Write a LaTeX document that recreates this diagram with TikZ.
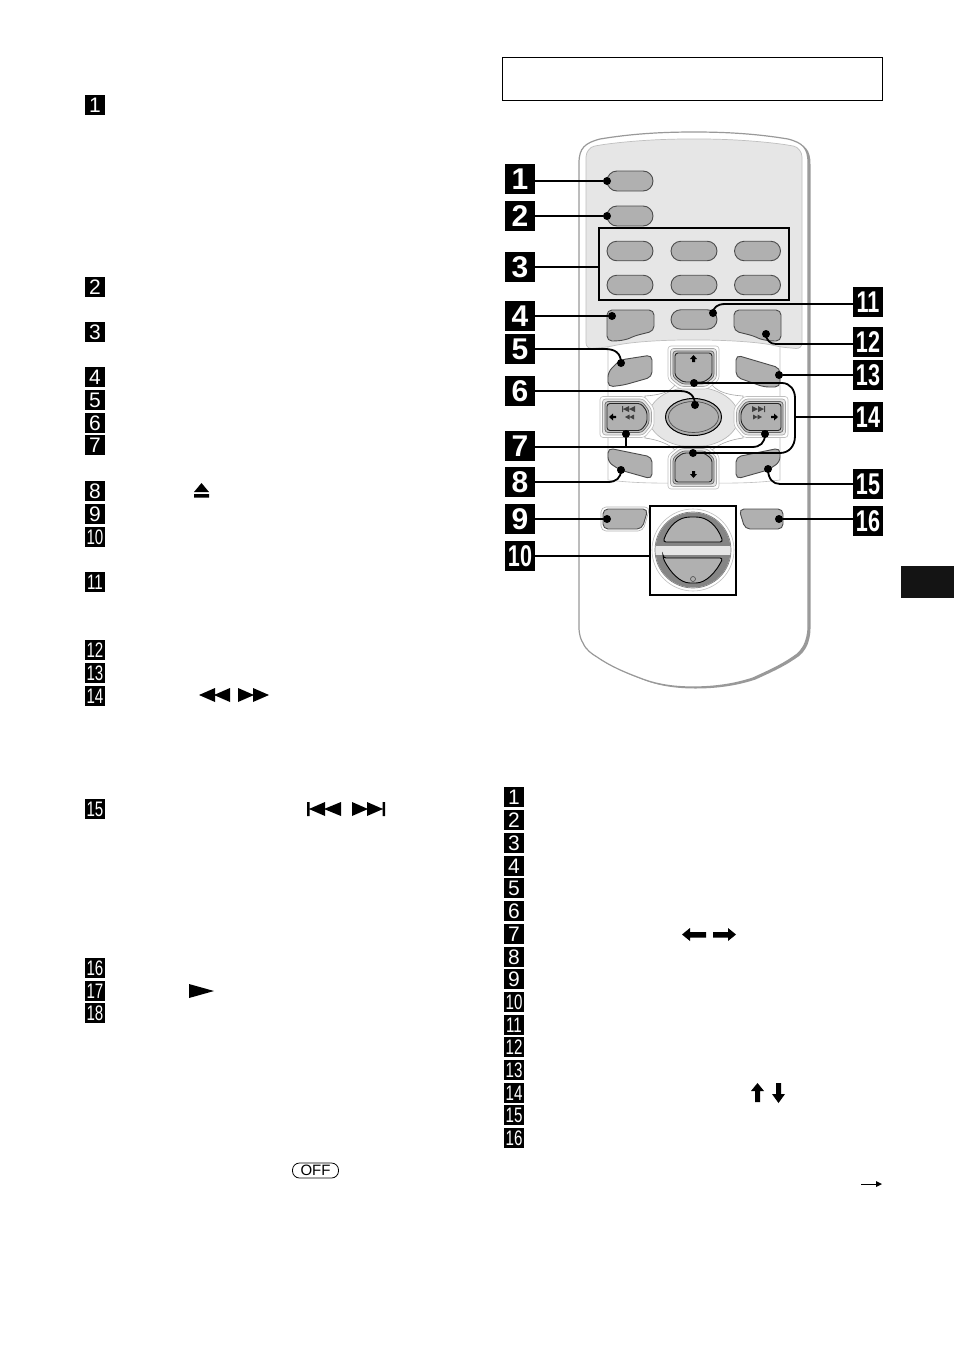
\documentclass[tikz,border=0pt]{standalone}
\usepackage{fontspec}
\usepackage{graphicx}
\setmainfont{Liberation Sans}
\usetikzlibrary{calc,shapes.misc}
\newcommand\numtxt[1]{\ifnum#1>9 \scalebox{0.72}[1]{#1}\else #1\fi}
\newcommand\bodyoutline{(579,163) .. controls (579,148) and (585,143) .. (600,139) .. controls (630,134) and (660,132) .. (694,132) .. controls (728,132) and (758,134) .. (788,139) .. controls (803,143) and (808,148) .. (808,163) -- (808,627) .. controls (808,635) and (806,640) .. (805,643) .. controls (802,650) and (798,654) .. (793,657) .. controls (780,666) and (766,672) .. (753,678) .. controls (735,684) and (715,687) .. (693,687) .. controls (672,687) and (655,684) .. (640,678) .. controls (624,672) and (610,666) .. (597,657) .. controls (592,654) and (586,650) .. (583,643) .. controls (581,640) and (579,635) .. (579,627) -- cycle}
\newcommand\dbtn[5]{%
 \begin{scope}[shift={(#1,#2)},rotate=#5]
  \foreach \g/\fc/\sc/\lw in {7/white/gray!50/0.6,4.5/black!10/gray!70/0.6,2/black!25/black!60/0.7,0/btn/black!85/0.9}{
   \draw[fill=\fc,draw=\sc,line width=\lw pt,rounded corners=3pt] (-#3-\g,-#4-\g) -- (#3+\g,-#4-\g) -- (#3+\g,#4-6+0.5*\g) -- (#3-8+0.5*\g,#4+\g) -- (-#3+8-0.5*\g,#4+\g) -- (-#3-\g,#4-6+0.5*\g) -- cycle;
  }
 \end{scope}}
\definecolor{btn}{HTML}{B0B0B0}
\definecolor{panel}{HTML}{E6E6E6}
\tikzset{
 sbadge/.style={fill=black,text=white,minimum width=20pt,minimum height=20pt,inner sep=0pt,font=\fontsize{21}{21}\selectfont},
 bbadge/.style={fill=black,text=white,minimum width=29.5pt,minimum height=29.5pt,inner sep=0pt,font=\fontsize{30}{30}\selectfont\bfseries},
 leaddot/.style={circle,fill=black,minimum size=8pt,inner sep=0pt},
 lead/.style={line width=1.8pt,black,line cap=round},
 framebox/.style={draw=black,line width=2pt,inner sep=0pt},
 rbtn/.style={rounded rectangle,fill=btn,draw=black!70,line width=0.9pt},
 sbtn/.style={fill=btn,draw=black!70,line width=0.9pt,rounded corners=5pt},
 glyph/.style={fill=black,draw=none},
}
\begin{document}
\begin{tikzpicture}[x=1pt,y=-1pt]
\useasboundingbox (0,0) rectangle (954,1352);
% page furniture
\node[draw=black,line width=0.8pt,minimum width=380pt,minimum height=43pt,inner sep=0pt] (titlebox) at (692.5,79) {};
\node[fill=black!92,minimum width=53pt,minimum height=32pt,inner sep=0pt] (tab) at (927.5,582) {};
% small badges
\foreach \n/\y in {1/105,2/287,3/332,4/377,5/400,6/423,7/445,8/491,9/514,10/537,11/582,12/650,13/673,14/696,15/809,16/968,17/991,18/1013}
  \node[sbadge] (L\n) at (95,\y) {\numtxt{\n}};
\foreach \n/\y in {1/797,2/820,3/843,4/866,5/888,6/911,7/934,8/957,9/979,10/1002,11/1025,12/1047,13/1070,14/1093,15/1115,16/1138}
  \node[sbadge] (R\n) at (514,\y) {\numtxt{\n}};
% glyphs
\fill[glyph] (194,492) -- (201.5,483) -- (209,492) -- cycle (194,494) rectangle (209,497.5);
\fill[glyph] (199,695) -- (215,688) -- (215,702) -- cycle (214,695) -- (230,688) -- (230,702) -- cycle;
\fill[glyph] (269,695) -- (253,688) -- (253,702) -- cycle (254,695) -- (238,688) -- (238,702) -- cycle;
\fill[glyph] (307,802) rectangle (309.5,816) (309,809) -- (325,802) -- (325,816) -- cycle (324,809) -- (341,802) -- (341,816) -- cycle;
\fill[glyph] (385,802) rectangle (382.5,816) (383,809) -- (367,802) -- (367,816) -- cycle (368,809) -- (352,802) -- (352,816) -- cycle;
\fill[glyph] (189,984) -- (214,991) -- (189,998) -- cycle;
\node[draw=black,line width=0.8pt,rounded corners=7pt,minimum width=46pt,minimum height=15pt,inner sep=0pt,font=\fontsize{15}{15}\selectfont] (off) at (315.5,1170.5) {OFF};
\fill[glyph] (682,934.5) -- (690,928) -- (690,932) -- (706,932) -- (706,937.5) -- (690,937.5) -- (690,941) -- cycle;
\fill[glyph] (736,934.5) -- (728,928) -- (728,932) -- (713,932) -- (713,937.5) -- (728,937.5) -- (728,941) -- cycle;
\fill[glyph] (757.5,1083) -- (764,1091) -- (760,1091) -- (760,1102) -- (755,1102) -- (755,1091) -- (751,1091) -- cycle;
\fill[glyph] (778.5,1103) -- (785,1094) -- (781,1094) -- (781,1083) -- (776,1083) -- (776,1094) -- (772,1094) -- cycle;
\draw[line width=0.8pt] (861,1184) -- (878,1184);
\fill[glyph] (882,1184) -- (876,1181) -- (876,1187) -- cycle;
% remote body
\fill[black!40,shift={(2.5,1.5)}] \bodyoutline;
\draw[fill=white,draw=black!40,line width=1.2pt] \bodyoutline;
\draw[fill=panel,draw=black!25,line width=0.7pt,rounded corners=6pt] (586,163) .. controls (586,152) and (590,147) .. (600,145) .. controls (630,141) and (660,139) .. (694,139) .. controls (728,139) and (758,141) .. (788,145) .. controls (798,147) and (802,152) .. (802,163) -- (802,349) -- (780,347) .. controls (760,342) and (725,340) .. (694,340) .. controls (660,340) and (630,342) .. (608,347) -- (586,349) -- cycle;
% faint area round the pad
\draw[draw=black!25,line width=0.6pt] (608,347) -- (608,480) .. controls (640,484) and (670,483) .. (694,483) .. controls (720,483) and (750,484) .. (780,480) -- (780,347);
% pad centre
\draw[fill=white,draw=black!35,line width=0.6pt] (675,385) .. controls (670,392) and (660,395) .. (645,396) -- (645,438) .. controls (660,440) and (670,445) .. (675,450) -- (712,450) .. controls (718,445) and (728,440) .. (743,438) -- (743,396) .. controls (728,395) and (718,392) .. (712,385) -- cycle;
\draw[fill=panel,draw=black!30,line width=0.6pt] (693.5,417) ellipse [x radius=45,y radius=30];
\dbtn{693.5}{367.5}{18.5}{14.5}{0}
\dbtn{693.5}{467.5}{18.5}{14.5}{180}
\dbtn{627}{417}{13.5}{20}{90}
\dbtn{761}{417}{13.5}{20}{-90}
\draw[fill=btn,draw=black,line width=1pt] (693.5,417) ellipse [x radius=28,y radius=18.5];
\draw[draw=black!70,line width=0.7pt] (693.5,417) ellipse [x radius=25,y radius=15.5];
% pad marks
\fill[glyph] (693.5,355) -- (697,359) -- (695,359) -- (695,362) -- (692,362) -- (692,359) -- (690,359) -- cycle;
\fill[glyph] (693.5,478) -- (697,474) -- (695,474) -- (695,471) -- (692,471) -- (692,474) -- (690,474) -- cycle;
\fill[glyph] (609,417) -- (613,413.5) -- (613,415.8) -- (616,415.8) -- (616,418.2) -- (613,418.2) -- (613,420.5) -- cycle;
\fill[glyph] (778,417) -- (774,413.5) -- (774,415.8) -- (771,415.8) -- (771,418.2) -- (774,418.2) -- (774,420.5) -- cycle;
\fill[black!75] (622,406) rectangle (623,412) (623,409) -- (629,406) -- (629,412) -- cycle (629,409) -- (635,406) -- (635,412) -- cycle (625,417) -- (629.5,414.5) -- (629.5,419.5) -- cycle (629.5,417) -- (634,414.5) -- (634,419.5) -- cycle;
\fill[black!75] (765,406) rectangle (764,412) (764,409) -- (758,406) -- (758,412) -- cycle (758,409) -- (752,406) -- (752,412) -- cycle (762,417) -- (757.5,414.5) -- (757.5,419.5) -- cycle (757.5,417) -- (753,414.5) -- (753,419.5) -- cycle;
% round buttons
\node[rbtn,minimum width=46pt,minimum height=20pt,inner sep=0pt] (k1) at (630,181) {};
\node[rbtn,minimum width=46pt,minimum height=20pt,inner sep=0pt] (k2) at (630,216) {};
\foreach \nm/\cx/\cy in {g1/630/251,g2/694/251,g3/757.5/251,g4/630/285,g5/694/285,g6/757.5/285,k11/694/319.5}
  \node[rbtn,minimum width=46pt,minimum height=19.5pt,inner sep=0pt] (\nm) at (\cx,\cy) {};
% shaped buttons
\draw[sbtn] (607,310) -- (654,310) -- (654,331) -- (634,336) .. controls (628,339) and (622,341) .. (607,341) -- cycle;
\draw[sbtn] (781,310) -- (734,310) -- (734,331) -- (754,336) .. controls (760,339) and (766,341) .. (781,341) -- cycle;
\draw[sbtn] (608,387) -- (608,372) -- (620,360) -- (652,355) -- (652,377) -- (624,385) -- cycle;
\draw[sbtn] (780,387) -- (780,368) -- (736,355) -- (736,377) -- (764,387) -- cycle;
\draw[sbtn] (608,448) -- (652,457) -- (652,479) -- (620,470) -- (608,462) -- cycle;
\draw[sbtn] (780,448) -- (736,457) -- (736,479) -- (768,470) -- (780,462) -- cycle;
\draw[black!30,line width=0.6pt,rounded corners=5pt] (601,507) -- (650,507) -- (643,531) -- (601,531) -- cycle;
\draw[sbtn] (603,509) -- (648,509) -- (642,529) -- (603,529) -- cycle;
\draw[sbtn] (783,509) -- (739,509) -- (745,529) -- (783,529) -- cycle;
% dial
\draw[draw=black!25,line width=0.6pt,fill=white] (693,550) circle [radius=41];
\draw[draw=black!50,line width=0.7pt,fill=panel] (693,550) circle [radius=38];
\begin{scope}
 \clip (640,500) rectangle (745,545);
 \fill[black!48] (693,550) circle [radius=37.5];
\end{scope}
\begin{scope}
 \clip (640,555) rectangle (745,600);
 \fill[black!48] (693,550) circle [radius=37.5];
\end{scope}
\draw[fill=btn,draw=black,line width=0.9pt,rounded corners=3pt] (663,542) .. controls (669,525) and (679,517) .. (693,517) .. controls (707,517) and (717,525) .. (723,542) -- cycle;
\draw[fill=btn,draw=black,line width=0.9pt,rounded corners=3pt] (663,558) -- (723,558) .. controls (716,572) and (706,583) .. (693,583) .. controls (680,583) and (670,572) .. (663,558) -- cycle;
\draw[black!70,line width=0.6pt] (693,579) circle [radius=2.5];
% frames
\node[framebox,minimum width=190pt,minimum height=72pt] (f3) at (694,264) {};
\node[framebox,minimum width=86pt,minimum height=89pt] (f10) at (693,550.5) {};
% big badges
\foreach \n/\x/\y in {1/520/179,2/520/216,3/520/267,4/520/316,5/520/349,6/520/391,7/520/446,8/520/482,9/520/519,10/520/556,11/868/302,12/868/342,13/868/375,14/868/417,15/868/484,16/868/521}
  \node[bbadge] (B\n) at (\x,\y) {\numtxt{\n}};
% leader dots
\node[leaddot] (d1) at (607,181) {};
\node[leaddot] (d2) at (607,216) {};
\node[leaddot] (d4) at (612,316) {};
\node[leaddot] (d5) at (621,363) {};
\node[leaddot] (d6) at (695,405) {};
\node[leaddot] (d7a) at (626,434) {};
\node[leaddot] (d7b) at (765,434) {};
\node[leaddot] (d8) at (621,470) {};
\node[leaddot] (d9) at (607,519) {};
\node[leaddot] (d11) at (713,313) {};
\node[leaddot] (d12) at (766,334) {};
\node[leaddot] (d13) at (779,375) {};
\node[leaddot] (d14a) at (694,383) {};
\node[leaddot] (d14b) at (693,453) {};
\node[leaddot] (d15) at (768,469) {};
\node[leaddot] (d16) at (779,519) {};
\coordinate (j7) at (626,447);
\coordinate (j14) at (795,417);
\coordinate (s11) at (853,304);
\coordinate (s12) at (853,344);
% leaders
\draw[lead] (B1.east |- d1) -- (d1);
\draw[lead] (B2.east |- d2) -- (d2);
\draw[lead] (B3.east) -- (B3.east -| f3.west);
\draw[lead] (B4.east) -- (d4);
\draw[lead] (B5.east) -- (605,349) .. controls (615,349) and (621,353) .. (d5.center);
\draw[lead] (B6.east) -- (680,391) .. controls (690,391) and (695,396) .. (d6.center);
\draw[lead] (B7.east |- j7) -- (752,447) .. controls (760,447) and (765,443) .. (d7b.center);
\draw[lead] (j7) -- (d7a);
\draw[lead] (B8.east) -- (608,482) .. controls (616,482) and (621,478) .. (d8.center);
\draw[lead] (B9.east) -- (d9);
\draw[lead] (B10.east) -- (B10.east -| f10.west);
\draw[lead] (s11) -- (725,304) .. controls (717,304) and (713,308) .. (d11.center);
\draw[lead] (s12) -- (776,344) .. controls (770,344) and (766,340) .. (d12.center);
\draw[lead] (B13.west) -- (d13);
\draw[lead] (B14.west) -- (j14);
\draw[lead] (d14a.center) -- (782,383) .. controls (790,383) and (795,390) .. (795,398) -- (795,436) .. controls (795,446) and (789,453) .. (780,453) -- (d14b.center);
\draw[lead] (B15.west) -- (780,484) .. controls (773,484) and (768,479) .. (d15.center);
\draw[lead] (B16.west |- d16) -- (d16);
\end{tikzpicture}
\end{document}
